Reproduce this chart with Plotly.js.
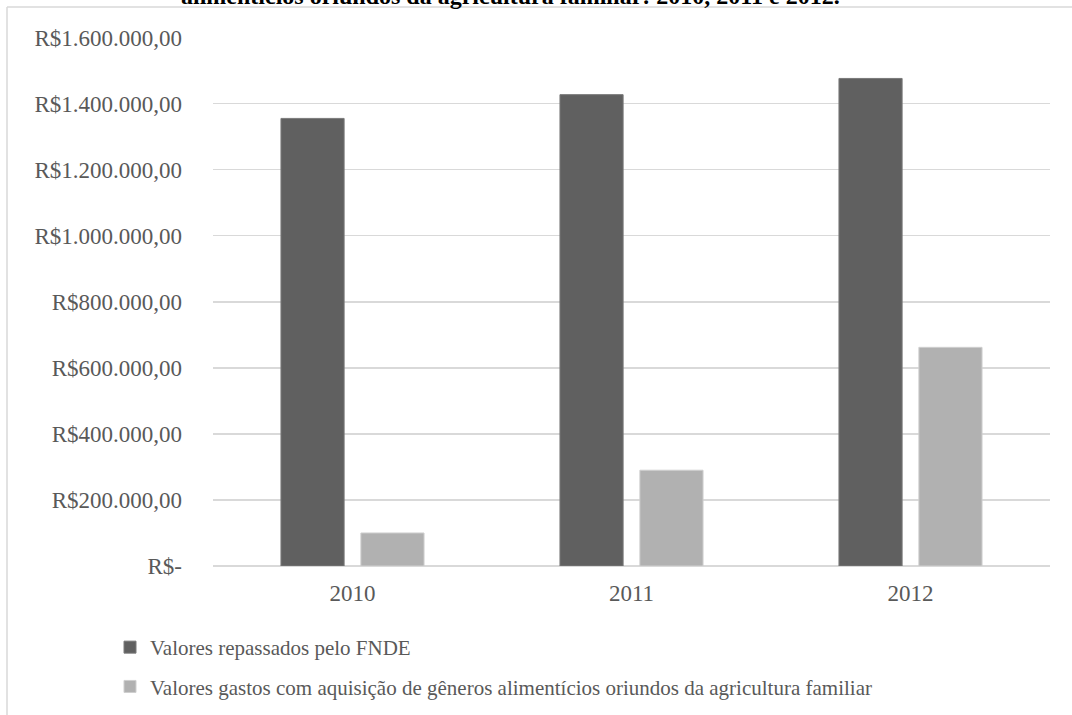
<!DOCTYPE html>
<html>
<head>
<meta charset="utf-8">
<script src="https://cdn.plot.ly/plotly-3.0.1.min.js"></script>
<style>html,body{margin:0;padding:0;background:#fff;}#chart{width:1072px;height:715px;}</style>
</head>
<body>
<div id="chart"></div>
<script>
const years = ["2010", "2011", "2012"];
const repassados = [1355000, 1427000, 1476000];
const gastos = [100000, 290000, 662000];
const seriesNames = [
  "Valores repassados pelo FNDE",
  "Valores gastos com aquisição de gêneros alimentícios oriundos da agricultura familiar"
];
const tickVals = [0, 200000, 400000, 600000, 800000, 1000000, 1200000, 1400000, 1600000];
const tickText = ["R$-", "R$200.000,00", "R$400.000,00", "R$600.000,00", "R$800.000,00",
  "R$1.000.000,00", "R$1.200.000,00", "R$1.400.000,00", "R$1.600.000,00"];
const titleText = "alimentícios oriundos da agricultura familiar: 2010, 2011 e 2012.";

const FAM = "Liberation Serif, Times New Roman, serif";
const font = {family: FAM, size: 23, color: "#595959"};
const legendFont = {family: FAM, size: 21, color: "#595959"};

const traces = [
  {type: "bar", x: years, y: repassados, name: seriesNames[0], legendgroup: "a",
   marker: {color: "#606060", line: {color: "#7a7a7a", width: 1}}},
  {type: "bar", x: years, y: gastos, name: seriesNames[1], legendgroup: "b",
   marker: {color: "#b1b1b1", line: {color: "#cfcfcf", width: 1}}}
];

const W = 1072, H = 715, L = 213, R = 22, T = 37, B = 149;
const pw = W - L - R, ph = H - T - B;

const layout = {
  width: W, height: H,
  margin: {l: L, r: R, t: T, b: B, autoexpand: false},
  paper_bgcolor: "#fff", plot_bgcolor: "#fff",
  font: font,
  annotations: [
    {text: "<b>" + titleText + "</b>", xref: "paper", yref: "paper",
     x: (510 - L) / pw, xanchor: "center", y: 1 + (T - 11) / ph, yanchor: "bottom",
     showarrow: false, font: {family: FAM, size: 24, color: "#000"}}
  ],
  barmode: "group", bargap: 0.427, bargroupgap: 0.21,
  xaxis: {showgrid: false, showline: false, zeroline: false, ticks: "", ticklabelstandoff: 11,
          tickfont: font, fixedrange: true, automargin: false},
  yaxis: {range: [0, 1601500], tickvals: tickVals, ticktext: tickText, showgrid: true,
          gridcolor: "#d9d9d9", gridwidth: 1.5, zeroline: true, zerolinecolor: "#d9d9d9", zerolinewidth: 1.5,
          showline: false, ticks: "", ticklabelstandoff: 30, tickfont: font, fixedrange: true, automargin: false},
  legend: {orientation: "v", x: (110 - L) / pw, xanchor: "left", y: -(627 - (T + ph)) / ph, yanchor: "top",
           traceorder: "grouped", tracegroupgap: 9, font: legendFont, bgcolor: "rgba(0,0,0,0)", itemwidth: 30},
  showlegend: true,
  shapes: [
    {type: "line", xref: "paper", yref: "paper", x0: (7 - L) / pw, x1: (W + 5 - L) / pw,
     y0: 1 + (T - 7) / ph, y1: 1 + (T - 7) / ph, line: {color: "#d9d9d9", width: 1.5}},
    {type: "line", xref: "paper", yref: "paper", x0: (7 - L) / pw, x1: (7 - L) / pw,
     y0: 1 + (T - 7) / ph, y1: -(H + 5 - T - ph) / ph, line: {color: "#d9d9d9", width: 1.5}}
  ]
};

Plotly.newPlot("chart", traces, layout, {displayModeBar: false, staticPlot: true});
</script>
</body>
</html>
